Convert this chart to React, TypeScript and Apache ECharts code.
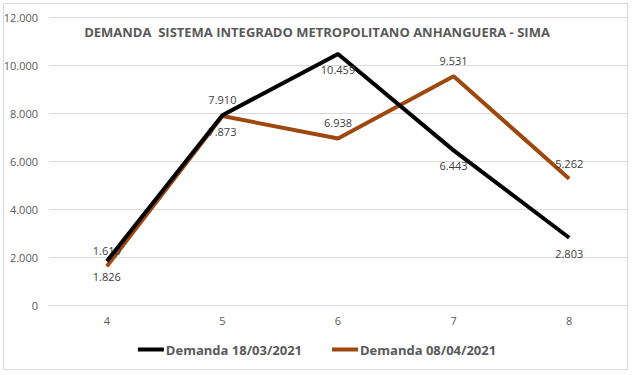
import React, { useEffect, useRef } from "react";
import * as echarts from "echarts";

const categories = ["4", "5", "6", "7", "8"];
const demanda1803 = [1826, 7910, 10459, 6443, 2803];
const demanda0804 = [1610, 7873, 6938, 9531, 5262];
const labelPos1803 = ["bottom", "top", "bottom", "bottom", "bottom"];
const labelPos0804 = ["top", "bottom", "top", "top", "top"];

const fmt = (v: number) => {
  const s = Math.round(v).toString();
  return s.replace(/\B(?=(\d{3})+(?!\d))/g, ".");
};

export default function App() {
  const ref = useRef<HTMLDivElement>(null);
  useEffect(() => {
    if (!ref.current) return;
    const chart = echarts.init(ref.current, undefined, { renderer: "svg" });
    const font = "Open Sans, Liberation Sans, sans-serif";
    const mk = (vals: number[], pos: string[]) =>
      vals.map((v, i) => ({ value: v, label: { position: pos[i] } }));
    const labelCfg = {
      show: true,
      color: "#404040",
      fontSize: 11,
      distance: 10,
      formatter: (p: any) => fmt(p.value),
    };
    chart.setOption({
      animation: false,
      backgroundColor: "#ffffff",
      textStyle: { fontFamily: font },
      title: {
        text: "DEMANDA  SISTEMA INTEGRADO METROPOLITANO ANHANGUERA - SIMA",
        left: "center",
        top: 20,
        textStyle: { fontSize: 13, fontWeight: "bold", color: "#595959", fontFamily: font },
      },
      graphic: [
        {
          type: "rect",
          shape: { x: 3.5, y: 3.5, width: 624, height: 366 },
          style: { fill: "none", stroke: "#d9d9d9", lineWidth: 1 },
          silent: true,
        },
      ],
      grid: { left: 49, right: 7, top: 17, bottom: 70, containLabel: false },
      legend: {
        bottom: 14,
        left: "center",
        itemWidth: 26,
        itemHeight: 4,
        itemGap: 30,
        icon: "rect",
        textStyle: { fontSize: 13, fontWeight: "bold", color: "#595959", fontFamily: font, padding: [0, 0, 0, -3] },
        data: [
          { name: "Demanda 18/03/2021", itemStyle: { color: "#000000", opacity: 1 } },
          { name: "Demanda 08/04/2021", itemStyle: { color: "#9E480E", opacity: 1 } },
        ],
      },
      xAxis: {
        type: "category",
        data: categories,
        boundaryGap: true,
        axisLine: { show: true, lineStyle: { color: "#d9d9d9" } },
        axisTick: { show: false },
        axisLabel: { color: "#595959", fontSize: 11, margin: 10 },
        splitLine: { show: false },
      },
      yAxis: {
        type: "value",
        min: 0,
        max: 12000,
        interval: 2000,
        axisLine: { show: false },
        axisTick: { show: false },
        axisLabel: { color: "#595959", fontSize: 11, margin: 11, formatter: (v: number) => fmt(v) },
        splitLine: { lineStyle: { color: "#d9d9d9", width: 1 } },
      },
      series: [
        {
          name: "Demanda 18/03/2021",
          type: "line",
          data: mk(demanda1803, labelPos1803),
          color: "#000000",
          lineStyle: { width: 4, color: "#000000" },
          symbol: "circle",
          symbolSize: 0.1,
          showSymbol: true,
          itemStyle: { color: "#000000" },
          label: labelCfg,
          z: 3,
        },
        {
          name: "Demanda 08/04/2021",
          type: "line",
          data: mk(demanda0804, labelPos0804),
          color: "#9E480E",
          lineStyle: { width: 4, color: "#9E480E" },
          symbol: "circle",
          symbolSize: 0.1,
          showSymbol: true,
          itemStyle: { color: "#9E480E" },
          label: labelCfg,
          z: 2,
        },
      ],
    });
    return () => chart.dispose();
  }, []);
  return (
    <div
      ref={ref}
      style={{ position: "fixed", left: 0, top: 0, width: 634, height: 375 }}
    />
  );
}
